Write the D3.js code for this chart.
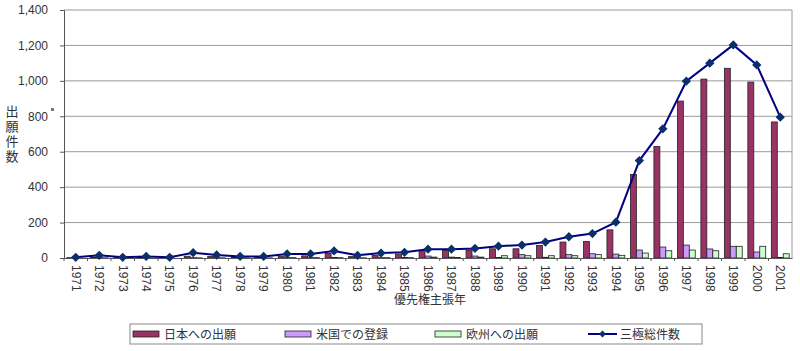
<!DOCTYPE html>
<html>
<head>
<meta charset="utf-8">
<script src="https://cdn.jsdelivr.net/npm/d3@7"></script>
<style>
  body { margin: 0; background: #fff; }
  text { font-family: "Liberation Sans", Arial, "Noto Sans CJK JP", sans-serif; fill: #333; }
  .jp { font-family: "Noto Sans CJK JP", sans-serif; }
</style>
</head>
<body>
<div id="chart"></div>
<script>
const years = d3.range(1971, 2002).map(String)

const japan = [2, 5, 2, 3, 2, 10, 8, 5, 4, 10, 12, 26, 8, 15, 22, 41, 43, 45, 52, 52, 71, 90, 93, 159, 472, 630, 886, 1010, 1071, 993, 768]
const usa = [0, 1, 0, 1, 0, 2, 1, 1, 1, 2, 2, 3, 1, 2, 3, 11, 5, 11, 3, 19, 4, 19, 24, 22, 45, 62, 73, 51, 66, 34, 3]
const europe = [0, 1, 0, 0, 0, 1, 1, 1, 1, 2, 2, 2, 1, 2, 2, 5, 3, 5, 13, 13, 13, 13, 19, 15, 28, 41, 45, 41, 66, 66, 24]
const total = [4, 15, 4, 9, 4, 30, 17, 9, 9, 23, 23, 40, 15, 28, 32, 50, 50, 54, 67, 73, 90, 120, 138, 202, 550, 729, 998, 1100, 1203, 1090, 795]

const barSeries = [
  { name: '日本への出願', values: japan, color: '#993366' },
  { name: '米国での登録', values: usa, color: '#CC99FF' },
  { name: '欧州への出願', values: europe, color: '#CCFFCC' }
]
const lineName = '三極総件数'
const yTicks = [0, 200, 400, 600, 800, 1000, 1200, 1400]

const width = 800
const height = 351
const margin = { top: 10, right: 8, bottom: 93, left: 64 }
const innerW = width - margin.left - margin.right
const innerH = height - margin.top - margin.bottom

const svg = d3.select('#chart')
  .append('svg')
  .attr('width', width)
  .attr('height', height)

const g = svg.append('g')
  .attr('transform', `translate(${margin.left}, ${margin.top})`)

const x = d3.scaleBand().domain(years).range([0, innerW])
const xInner = d3.scaleBand()
  .domain(barSeries.map((s) => s.name))
  .range([x.bandwidth() * 0.12, x.bandwidth() * 0.88])
const y = d3.scaleLinear().domain([0, 1400]).range([innerH, 0])

// gridlines
g.selectAll('.grid')
  .data(yTicks.slice(1))
  .enter()
  .append('line')
  .attr('x1', 0)
  .attr('x2', innerW)
  .attr('y1', (d) => y(d))
  .attr('y2', (d) => y(d))
  .style('stroke', '#9a9a9a')
  .style('stroke-width', 1)

// right border
g.append('line')
  .attr('x1', innerW)
  .attr('x2', innerW)
  .attr('y1', 0)
  .attr('y2', innerH)
  .style('stroke', '#9a9a9a')

// bars
barSeries.forEach((s) => {
  g.selectAll(null)
    .data(s.values)
    .enter()
    .append('rect')
    .attr('x', (d, i) => x(years[i]) + xInner(s.name))
    .attr('y', (d) => y(d))
    .attr('width', xInner.bandwidth())
    .attr('height', (d) => innerH - y(d))
    .style('fill', s.color)
    .style('stroke', '#222')
    .style('stroke-width', 0.8)
})

// y axis
const yAxis = g.append('g')
  .call(d3.axisLeft(y).tickValues(yTicks).tickSize(4).tickFormat(d3.format(',')))
yAxis.select('.domain').style('stroke', '#555')
yAxis.selectAll('.tick line').style('stroke', '#555')
yAxis.selectAll('text')
  .attr('x', -16)
  .style('font-size', '12px')
  .style('fill', '#333')

// x axis
const xAxis = g.append('g')
  .attr('transform', `translate(0, ${innerH})`)
  .call(d3.axisBottom(x).tickSize(0))
xAxis.select('.domain').style('stroke', '#555')
xAxis.selectAll('.tick text')
  .attr('transform', 'rotate(90)')
  .attr('x', 7)
  .attr('y', 0)
  .attr('dy', '0.35em')
  .style('text-anchor', 'start')
  .style('font-size', '12px')
  .style('fill', '#333')
g.selectAll('.xtick')
  .data(years)
  .enter()
  .append('line')
  .attr('x1', (d) => x(d))
  .attr('x2', (d) => x(d))
  .attr('y1', innerH)
  .attr('y2', innerH + 3)
  .style('stroke', '#555')

// total line
const line = d3.line()
  .x((d, i) => x(years[i]) + x.bandwidth() / 2)
  .y((d) => y(d))

g.append('path')
  .datum(total)
  .attr('d', line)
  .style('fill', 'none')
  .style('stroke', '#000080')
  .style('stroke-width', 2)

g.selectAll('.marker')
  .data(total)
  .enter()
  .append('path')
  .attr('d', d3.symbol().type(d3.symbolDiamond2).size(55))
  .attr('transform', (d, i) => `translate(${x(years[i]) + x.bandwidth() / 2}, ${y(d)})`)
  .style('fill', '#0b2f6b')

// axis titles
svg.append('text')
  .attr('class', 'jp')
  .attr('x', 12)
  .attr('y', 105)
  .style('font-size', '13px')
  .style('writing-mode', 'vertical-rl')
  .style('letter-spacing', '2px')
  .text('出願件数')

svg.append('rect')
  .attr('x', 51)
  .attr('y', 108)
  .attr('width', 3)
  .attr('height', 3)
  .style('fill', '#6a7a9a')

svg.append('text')
  .attr('class', 'jp')
  .attr('x', 430)
  .attr('y', 304)
  .style('font-size', '12px')
  .style('text-anchor', 'middle')
  .text('優先権主張年')

// legend
const legend = svg.append('g')
legend.append('rect')
  .attr('x', 130)
  .attr('y', 324)
  .attr('width', 572)
  .attr('height', 20)
  .style('fill', '#fff')
  .style('stroke', '#888')

const legendX = [133, 285, 435]
barSeries.forEach((s, i) => {
  legend.append('rect')
    .attr('x', legendX[i])
    .attr('y', 331)
    .attr('width', 26)
    .attr('height', 6)
    .style('fill', s.color)
    .style('stroke', '#222')
    .style('stroke-width', 0.8)
  legend.append('text')
    .attr('class', 'jp')
    .attr('x', legendX[i] + 31)
    .attr('y', 338.5)
    .style('font-size', '12px')
    .text(s.name)
})
legend.append('line')
  .attr('x1', 588)
  .attr('x2', 617)
  .attr('y1', 334)
  .attr('y2', 334)
  .style('stroke', '#000080')
  .style('stroke-width', 2)
legend.append('path')
  .attr('d', d3.symbol().type(d3.symbolDiamond2).size(30))
  .attr('transform', 'translate(602.5, 334)')
  .style('fill', '#0b2f6b')
legend.append('text')
  .attr('class', 'jp')
  .attr('x', 620)
  .attr('y', 338.5)
  .style('font-size', '12px')
  .text(lineName)
</script>
</body>
</html>
